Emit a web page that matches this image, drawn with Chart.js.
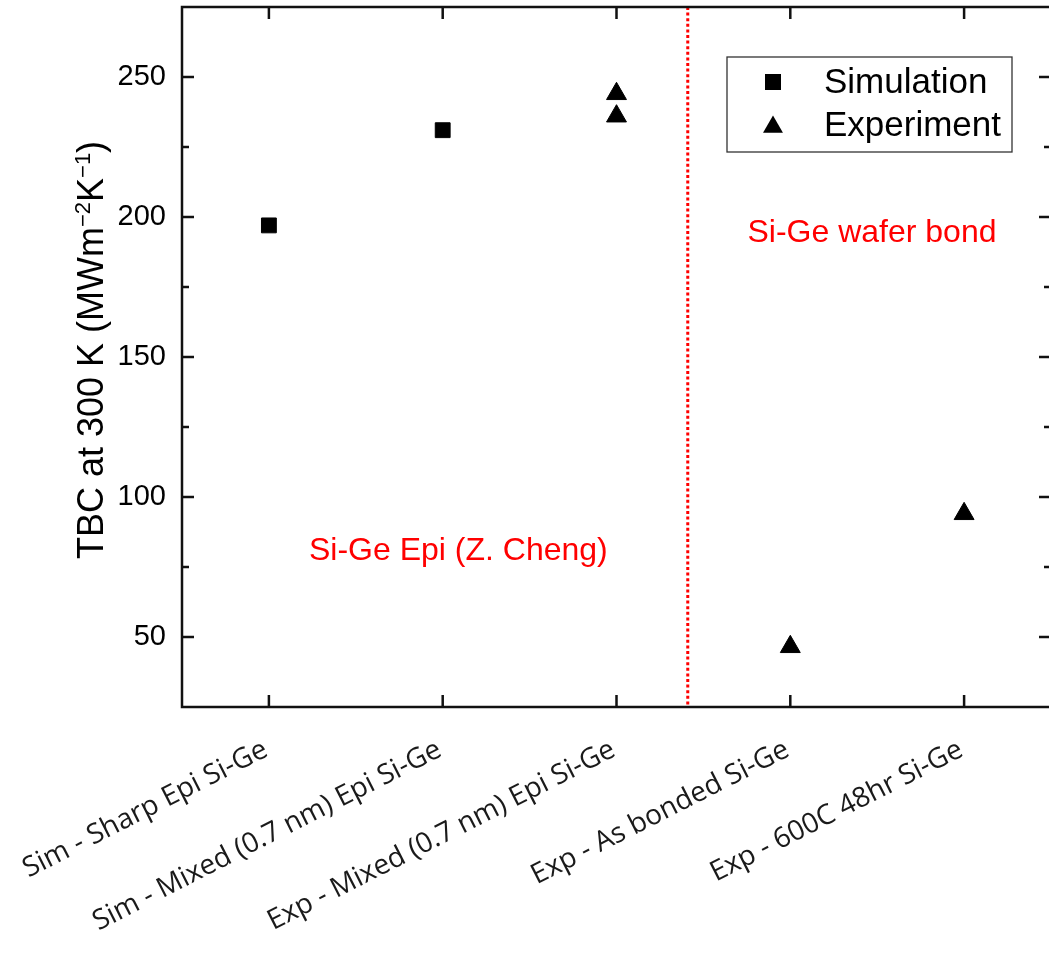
<!DOCTYPE html>
<html>
<head>
<meta charset="utf-8">
<script src="https://cdn.jsdelivr.net/npm/chart.js@4/dist/chart.umd.min.js"></script>
<style>
html,body{margin:0;padding:0;background:#fff;overflow:hidden;}
#wrap{width:1060px;height:959px;}
</style>
</head>
<body>
<div id="wrap"><canvas id="c" width="1060" height="959"></canvas></div>
<script>
const categories = ['Sim - Sharp Epi Si-Ge', 'Sim - Mixed (0.7 nm) Epi Si-Ge', 'Exp - Mixed (0.7 nm) Epi Si-Ge', 'Exp - As bonded Si-Ge', 'Exp - 600C 48hr Si-Ge'];
const simulationCategories = [0, 1];
const simulationValues = [197, 231];
const experimentCategories = [2, 2, 3, 4];
const experimentValues = [244, 236, 46.5, 94];
const yTickValues = [50, 100, 150, 200, 250];
const yMinorTickValues = [75, 125, 175, 225];
const yRange = [25, 275];
const dividerPosition = 2.41;
const seriesNames = ['Simulation', 'Experiment'];
const yAxisTitleParts = [['TBC at 300 K (MWm', false], ['\u22122', true], ['K', false], ['\u22121', true], [')', false]];
const annotationTexts = ['Si-Ge Epi (Z. Cheng)', 'Si-Ge wafer bond'];
const annotationX = [1.09, 3.47];
const annotationY = [77.4, 191];

const AX = '#111';
const SANS = '"Liberation Sans", Arial, sans-serif';

const overlayPlugin = {
  id: 'overlay',
  beforeDatasetsDraw(chart) {
    const {ctx, chartArea: a, scales: {x, y}} = chart;
    const px = x.getPixelForValue(dividerPosition);
    ctx.save();
    ctx.strokeStyle = '#ff0000';
    ctx.lineWidth = 3;
    ctx.setLineDash([3, 2.6]);
    ctx.beginPath();
    ctx.moveTo(px, a.top);
    ctx.lineTo(px, a.bottom + 1);
    ctx.stroke();
    ctx.restore();
    ctx.save();
    ctx.fillStyle = '#ff0000';
    ctx.font = '32px ' + SANS;
    ctx.textAlign = 'center';
    ctx.textBaseline = 'alphabetic';
    annotationTexts.forEach((t, i) => {
      ctx.fillText(t, x.getPixelForValue(annotationX[i]), y.getPixelForValue(annotationY[i]));
    });
    ctx.restore();
  },
  afterDraw(chart) {
    const {ctx, chartArea: a, scales: {x, y}} = chart;
    ctx.save();
    ctx.strokeStyle = AX;
    ctx.lineWidth = 2.5;
    ctx.setLineDash([]);
    ctx.strokeRect(a.left, a.top, a.right - a.left, a.bottom - a.top);
    ctx.beginPath();
    categories.forEach((c, i) => {
      const px = x.getPixelForValue(i);
      ctx.moveTo(px, a.bottom); ctx.lineTo(px, a.bottom - 12);
      ctx.moveTo(px, a.top); ctx.lineTo(px, a.top + 12);
    });
    yTickValues.forEach(v => {
      const py = y.getPixelForValue(v);
      ctx.moveTo(a.left, py); ctx.lineTo(a.left + 12, py);
      ctx.moveTo(a.right, py); ctx.lineTo(a.right - 12, py);
    });
    yMinorTickValues.forEach(v => {
      const py = y.getPixelForValue(v);
      ctx.moveTo(a.left, py); ctx.lineTo(a.left + 7, py);
      ctx.moveTo(a.right, py); ctx.lineTo(a.right - 7, py);
    });
    ctx.stroke();
    ctx.restore();

    ctx.save();
    const mainFont = '36px ' + SANS, supFont = '22px ' + SANS;
    let total = 0;
    yAxisTitleParts.forEach(([t, sup]) => { ctx.font = sup ? supFont : mainFont; total += ctx.measureText(t).width; });
    ctx.translate(103, (a.top + a.bottom) / 2 - 7);
    ctx.rotate(-Math.PI / 2);
    ctx.fillStyle = '#000';
    ctx.textBaseline = 'alphabetic';
    ctx.textAlign = 'left';
    let cx = -total / 2;
    yAxisTitleParts.forEach(([t, sup]) => {
      ctx.font = sup ? supFont : mainFont;
      ctx.fillText(t, cx, sup ? -13 : 0);
      cx += ctx.measureText(t).width;
    });
    ctx.restore();

    ctx.save();
    const lx = 727, ly = 57, lw = 285, lh = 95;
    ctx.strokeStyle = '#333';
    ctx.lineWidth = 1.3;
    ctx.strokeRect(lx, ly, lw, lh);
    ctx.fillStyle = '#000';
    const sx = 773, sy = 82;
    ctx.fillRect(sx - 8, sy - 8, 16, 16);
    const tx = 773, ty = 127, r = 11.5;
    ctx.beginPath();
    ctx.moveTo(tx, ty - r);
    ctx.lineTo(tx + r * Math.sin(2 * Math.PI / 3), ty + r / 2);
    ctx.lineTo(tx - r * Math.sin(2 * Math.PI / 3), ty + r / 2);
    ctx.closePath();
    ctx.fill();
    ctx.font = '35px ' + SANS;
    ctx.textAlign = 'left';
    ctx.textBaseline = 'alphabetic';
    ctx.fillText(seriesNames[0], 824, 93);
    ctx.fillText(seriesNames[1], 824, 136);
    ctx.restore();
  }
};

const simData = simulationCategories.map((c, i) => ({x: categories[c], y: simulationValues[i]}));
const expData = experimentCategories.map((c, i) => ({x: categories[c], y: experimentValues[i]}));

new Chart(document.getElementById('c'), {
  type: 'line',
  data: {
    labels: categories,
    datasets: [
      {label: seriesNames[0], data: simData, showLine: false, pointStyle: 'rect', pointRadius: 10.5, pointHoverRadius: 10.5,
       backgroundColor: '#000', borderColor: '#000', pointBorderWidth: 1},
      {label: seriesNames[1], data: expData, showLine: false, pointStyle: 'triangle', pointRadius: 11.5, pointHoverRadius: 11.5,
       backgroundColor: '#000', borderColor: '#000', pointBorderWidth: 1}
    ]
  },
  options: {
    responsive: false,
    animation: false,
    devicePixelRatio: 1,
    layout: {autoPadding: false, padding: {top: 7, right: 9, left: 0, bottom: 0}},
    plugins: {legend: {display: false}, tooltip: {enabled: false}},
    scales: {
      x: {
        type: 'category',
        offset: true,
        grid: {display: false, drawTicks: false},
        border: {display: false},
        ticks: {
          autoSkip: false,
          minRotation: 27,
          maxRotation: 27,
          padding: 26,
          labelOffset: -3,
          color: '#1a1a1a',
          font: {family: '"Open Sans", "Noto Sans", sans-serif', size: 28}
        },
        afterFit(scale) { scale.height = 252; scale.paddingLeft = 0; scale.paddingRight = 0; }
      },
      y: {
        min: yRange[0],
        max: yRange[1],
        grid: {display: false, drawTicks: false},
        border: {display: false},
        afterBuildTicks(scale) { scale.ticks = yTickValues.map(v => ({value: v})); },
        ticks: {
          padding: 16,
          color: '#000',
          font: {family: SANS, size: 29}
        },
        afterFit(scale) { scale.width = 182; scale.paddingTop = 0; scale.paddingBottom = 0; }
      }
    }
  },
  plugins: [overlayPlugin]
});
</script>
</body>
</html>
